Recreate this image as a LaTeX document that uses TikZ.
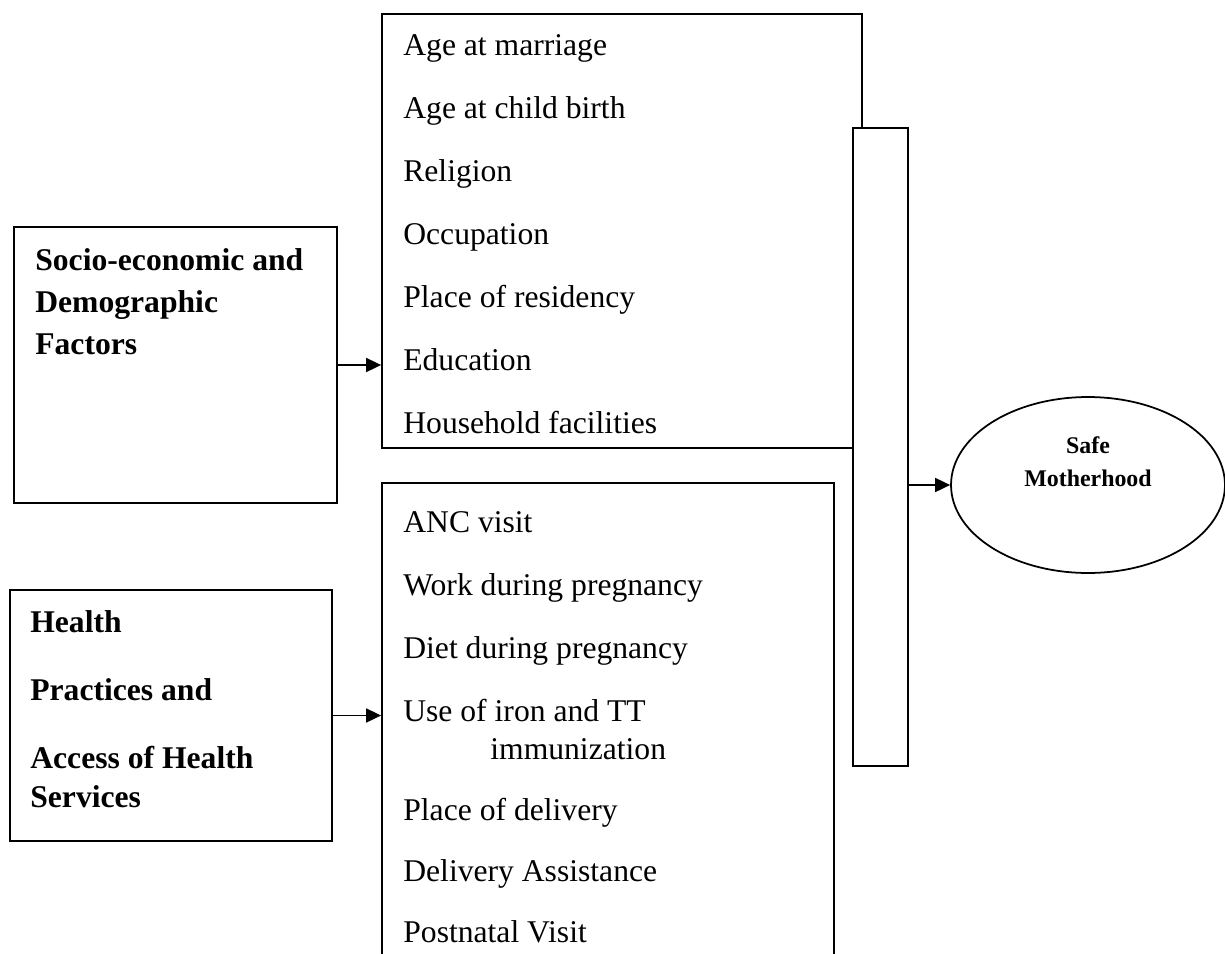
\documentclass[tikz,border=0pt]{standalone}
\usepackage{fontspec}
\setmainfont{Liberation Serif}
\usetikzlibrary{shapes.geometric,fit,arrows.meta}
\begin{document}
\begin{tikzpicture}[x=0.02cm,y=-0.02cm,
  box/.style={draw, line width=1pt, inner sep=0pt},
  item/.style={anchor=base west, inner sep=0pt, font=\fontsize{18}{21}\selectfont},
  head/.style={anchor=base west, inner sep=0pt, font=\fontsize{18}{21}\selectfont\bfseries},
  arr/.style={line width=1pt, -{Triangle[length=0.3cm,width=0.28cm]}}]
\useasboundingbox (0,0) rectangle (1225,954);
\clip (0,0) rectangle (1225,954);
% left boxes
\node[box, fit={(14,227) (337,503)}] (A) {};
\node[box, fit={(10,590) (332,841)}] (B) {};
% list boxes
\node[box, fit={(382,14) (862,448)}] (C) {};
\node[box, fit={(382,483) (834,980)}] (E) {};
% bar
\node[box, fill=white, fit={(853,128) (908,766)}] (D) {};
% ellipse
\node[draw, line width=1pt, ellipse, minimum width=5.48cm, minimum height=3.52cm, inner sep=0pt] (S) at (1088,485) {};
\node[inner sep=0pt, align=center, font=\fontsize{13.6}{18.5}\selectfont\bfseries, anchor=base] (St) at (1088,486) {Safe\\Motherhood};
% texts box A
\node[head] (a1) at (35,270) {Socio-economic and};
\node[head] (a2) at (35,312) {Demographic};
\node[head] (a3) at (35,354) {Factors};
% texts box B
\node[head] (b1) at (30,632) {Health};
\node[head] (b2) at (30,700) {Practices and};
\node[head] (b3) at (30,768) {Access of Health};
\node[head] (b4) at (30,807) {Services};
% texts box C
\node[item] (c1) at (403,55) {Age at marriage};
\node[item] (c2) at (403,118) {Age at child birth};
\node[item] (c3) at (403,181) {Religion};
\node[item] (c4) at (403,244) {Occupation};
\node[item] (c5) at (403,307) {Place of residency};
\node[item] (c6) at (403,370) {Education};
\node[item] (c7) at (403,433) {Household facilities};
% texts box E
\node[item] (e1) at (403,532) {ANC visit};
\node[item] (e2) at (403,595) {Work during pregnancy};
\node[item] (e3) at (403,658) {Diet during pregnancy};
\node[item] (e4) at (403,721) {Use of iron and TT};
\node[item] (e5) at (490,759) {immunization};
\node[item] (e6) at (403,820) {Place of delivery};
\node[item] (e7) at (403,881) {Delivery Assistance};
\node[item] (e8) at (403,942) {Postnatal Visit};
% arrows
\draw[arr] (A.east) -- (A.east -| C.west);
\draw[arr] (B.east) -- (B.east -| E.west);
\draw[arr] (D.east |- S.west) -- (S.west);
\end{tikzpicture}
\end{document}
